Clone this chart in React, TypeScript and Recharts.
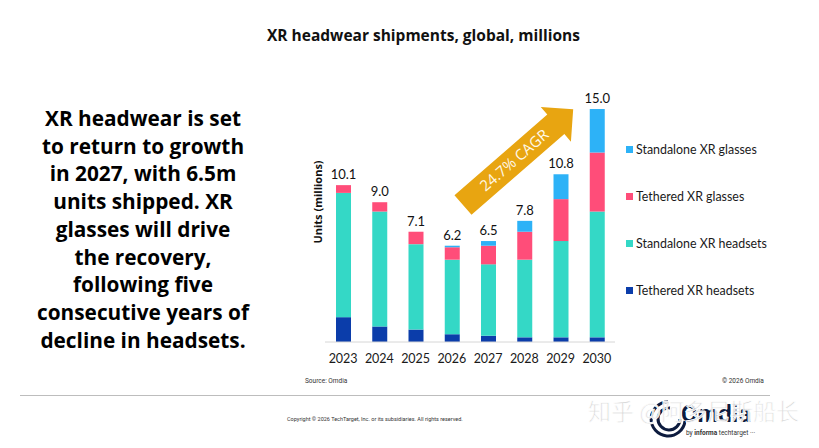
import React from "react";
import { BarChart, Bar, XAxis, YAxis, LabelList } from "recharts";

const years = ["2023", "2024", "2025", "2026", "2027", "2028", "2029", "2030"];
const tetheredHeadsets = [1.6, 1.0, 0.8, 0.5, 0.4, 0.3, 0.3, 0.3];
const standaloneHeadsets = [8.0, 7.4, 5.5, 4.8, 4.6, 5.0, 6.2, 8.1];
const tetheredGlasses = [0.5, 0.6, 0.8, 0.8, 1.2, 1.8, 2.7, 3.8];
const standaloneGlasses = [0, 0, 0, 0.1, 0.3, 0.7, 1.6, 2.8];
const totals = ["10.1", "9.0", "7.1", "6.2", "6.5", "7.8", "10.8", "15.0"];

const seriesNames = {
  tetheredHeadsets: "Tethered XR headsets",
  standaloneHeadsets: "Standalone XR headsets",
  tetheredGlasses: "Tethered XR glasses",
  standaloneGlasses: "Standalone XR glasses",
};

const colors = {
  tetheredHeadsets: "#0B3DAA",
  standaloneHeadsets: "#34D8C6",
  tetheredGlasses: "#FF4D79",
  standaloneGlasses: "#2DB2F7",
};

const storyLines = [
  "XR headwear is set",
  "to return to growth",
  "in 2027, with 6.5m",
  "units shipped. XR",
  "glasses will drive",
  "the recovery,",
  "following five",
  "consecutive years of",
  "decline in headsets.",
];

const data = years.map((year, i) => ({
  year,
  tetheredHeadsets: tetheredHeadsets[i],
  standaloneHeadsets: standaloneHeadsets[i],
  tetheredGlasses: tetheredGlasses[i],
  standaloneGlasses: standaloneGlasses[i],
  // stack height, used by an invisible overlay bar to place the total label
  stackTotal: tetheredHeadsets[i] + standaloneHeadsets[i] + tetheredGlasses[i] + standaloneGlasses[i],
  total: totals[i],
}));

const legendOrder = ["standaloneGlasses", "tetheredGlasses", "standaloneHeadsets", "tetheredHeadsets"] as const;

function ChartLegend() {
  return (
    <div style={{ position: "absolute", left: 626, top: 142, width: 180 }}>
      {legendOrder.map((key, i) => (
        <div
          key={key}
          style={{
            position: "absolute",
            left: 0,
            top: i * 47,
            display: "flex",
            alignItems: "center",
            fontFamily: "Lato, sans-serif",
            fontSize: 12.4,
            color: "#1a1a1a",
            whiteSpace: "nowrap",
          }}
        >
          <span style={{ width: 7, height: 7, background: colors[key], marginRight: 3, display: "inline-block" }} />
          {seriesNames[key]}
        </div>
      ))}
    </div>
  );
}

function CagrArrow() {
  const shaft = 123;
  const head = 23;
  return (
    <svg width={819} height={448} style={{ position: "absolute", left: 0, top: 0, pointerEvents: "none" }}>
      <g transform="translate(463,205) rotate(-41)">
        <polygon
          points={`0,-13 ${shaft},-13 ${shaft},-23 ${shaft + head},0 ${shaft},23 ${shaft},13 0,13`}
          fill="#E8A511"
        />
        <text
          x={68}
          y={5}
          textAnchor="middle"
          fill="#FFF8E8"
          fontFamily="'Open Sans', sans-serif"
          fontSize={15}
        >
          24.7% CAGR
        </text>
      </g>
    </svg>
  );
}

export default function App() {
  return (
    <div
      style={{
        position: "absolute",
        left: 0,
        top: 0,
        width: 819,
        height: 448,
        background: "#fff",
        overflow: "hidden",
      }}
    >
      <div
        style={{
          position: "absolute",
          left: 267,
          top: 24,
          fontFamily: "'Open Sans', sans-serif",
          fontWeight: 700,
          fontSize: 15.5,
          color: "#111",
          whiteSpace: "nowrap",
        }}
      >
        XR headwear shipments, global, millions
      </div>

      <div
        style={{
          position: "absolute",
          left: 18,
          top: 105,
          width: 250,
          textAlign: "center",
          fontFamily: "'Open Sans', sans-serif",
          fontWeight: 700,
          fontSize: 20.8,
          lineHeight: "27.7px",
          color: "#000",
        }}
      >
        {storyLines.map((line) => (
          <div key={line} style={{ whiteSpace: "nowrap" }}>
            {line}
          </div>
        ))}
      </div>

      <div
        style={{
          position: "absolute",
          left: 317,
          top: 202,
          transform: "translate(-50%, -50%) rotate(-90deg)",
          fontFamily: "'Open Sans', sans-serif",
          fontWeight: 700,
          fontSize: 11,
          color: "#111",
          whiteSpace: "nowrap",
        }}
      >
        Units (millions)
      </div>

      <div style={{ position: "absolute", left: 290, top: 60 }}>
        <BarChart
          width={330}
          height={320}
          data={data}
          barSize={15}
          margin={{ top: 33.5, right: 5, left: 35, bottom: 8 }}
        >
          <XAxis
            dataKey="year"
            tickLine={false}
            axisLine={{ stroke: "#d6d6d6" }}
            tick={{ fill: "#1a1a1a", fontSize: 12.5, fontFamily: "Lato, sans-serif" }}
            tickMargin={6}
          />
          <XAxis xAxisId="overlay" dataKey="year" hide />
          <YAxis hide domain={[0, 16]} />
          <Bar dataKey="tetheredHeadsets" stackId="a" fill={colors.tetheredHeadsets} isAnimationActive={false} />
          <Bar dataKey="standaloneHeadsets" stackId="a" fill={colors.standaloneHeadsets} isAnimationActive={false} />
          <Bar dataKey="tetheredGlasses" stackId="a" fill={colors.tetheredGlasses} isAnimationActive={false} />
          <Bar dataKey="standaloneGlasses" stackId="a" fill={colors.standaloneGlasses} isAnimationActive={false} />
          <Bar dataKey="stackTotal" xAxisId="overlay" fill="none" isAnimationActive={false} legendType="none">
            <LabelList
              dataKey="total"
              position="top"
              offset={6}
              fill="#111"
              fontSize={13}
              fontFamily="Lato, sans-serif"
            />
          </Bar>
        </BarChart>
      </div>

      <ChartLegend />
      <CagrArrow />

      <div style={{ position: "absolute", left: 305, top: 377, fontFamily: "Roboto, sans-serif", fontSize: 6.5, color: "#333" }}>
        Source: Omdia
      </div>
      <div style={{ position: "absolute", left: 722, top: 377, fontFamily: "Roboto, sans-serif", fontSize: 6.5, color: "#333" }}>
        © 2026 Omdia
      </div>
      <div style={{ position: "absolute", left: 20, top: 395, width: 750, height: 1, background: "#bdbdbd" }} />
      <div style={{ position: "absolute", left: 287, top: 416, fontFamily: "Roboto, sans-serif", fontSize: 5.5, color: "#333", whiteSpace: "nowrap" }}>
        Copyright © 2026 TechTarget, Inc. or its subsidiaries. All rights reserved.
      </div>

      <svg width={819} height={448} style={{ position: "absolute", left: 0, top: 0 }}>
        <g fill="none" stroke="#0d1b3e" strokeWidth={3}>
          <path d="M 668 402 A 17 17 0 1 0 685 421" />
          <path d="M 670 408 A 11 11 0 1 0 680 419" />
        </g>
        <text x={681} y={422} fontFamily="Roboto, sans-serif" fontWeight={700} fontSize={24} fill="#0d1b3e">
          Omdia
        </text>
        <text x={686} y={435} fontFamily="Roboto, sans-serif" fontSize={6.5} fill="#333">
          by <tspan fontWeight={700}>informa</tspan> techtarget ···
        </text>
        <text
          x={588}
          y={420}
          fontFamily="'Noto Sans CJK SC', sans-serif"
          fontSize={23}
          fill="#d4d4d4"
          fillOpacity={0.9}
          stroke="#fff"
          strokeWidth={0.8}
        >
          知乎 @阿多尼斯船长
        </text>
      </svg>
    </div>
  );
}
